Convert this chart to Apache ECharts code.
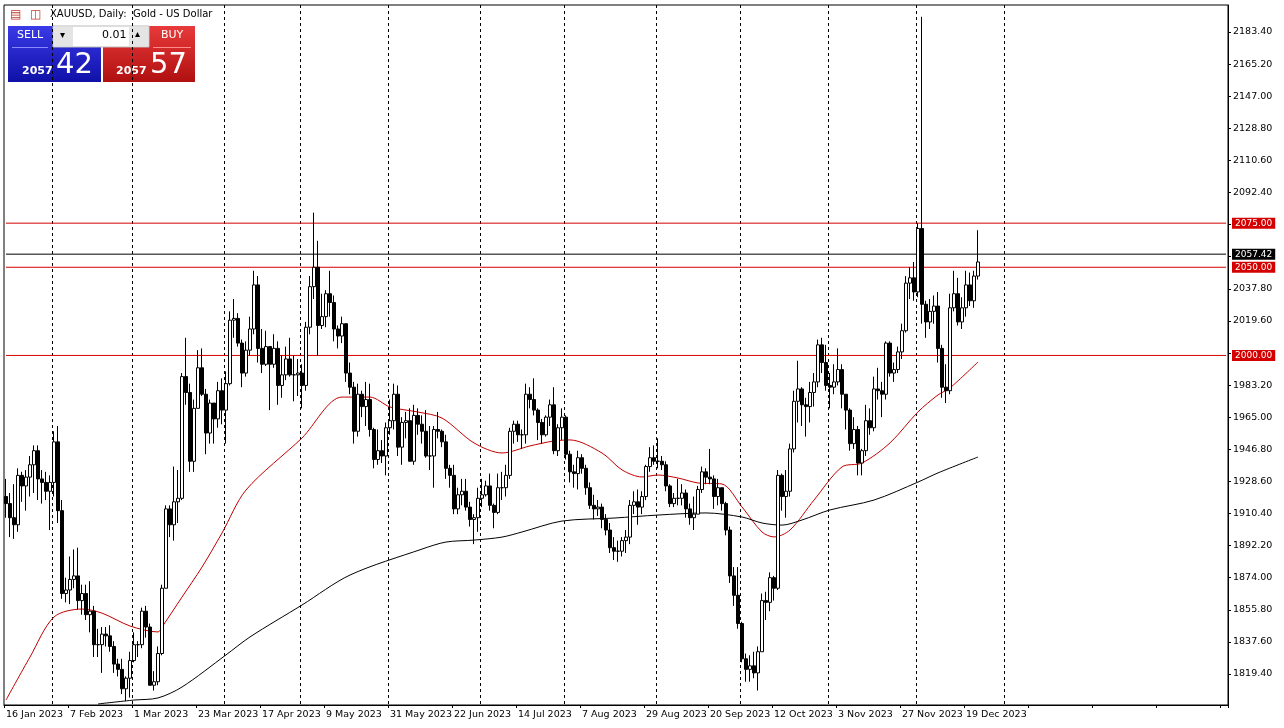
<!DOCTYPE html>
<html><head><meta charset="utf-8">
<script src="https://cdn.jsdelivr.net/npm/echarts@6/dist/echarts.min.js"></script>
<style>html,body{margin:0;padding:0;background:#fff}#main{width:1284px;height:728px}</style>
</head><body><div id="main"></div>
<script>
// daily closes, 16 Jan 2023 .. 22 Dec 2023 (Good Friday skipped)
var closes = [1916,1908,1904,1932,1926,1931,1938,1946,1930,1928,1923,1928,
1951,1912,1865,1867,1873,1875,1861,1865,1853,1855,1836,1836,1842,1841,1835,1825,1822,1811,1817,1827,
1836,1836,1855,1846,1813,1815,1831,1868,1913,1904,1917,1919,1988,1979,1940,1970,1993,1978,1956,1973,1964,1980,1969,
1984,2020,2021,2007,1990,2003,2015,2040,2004,1995,2005,1995,2004,1983,1989,1998,1989,1989,1990,
1983,2016,2039,2050,2017,2022,2035,2030,2015,2011,2018,1990,1982,1957,1978,1971,1975,1958,1941,1946,1943,1959,1963,
1978,1948,1962,1963,1940,1966,1961,1957,1943,1943,1958,1957,1951,1936,1932,1913,1921,1923,1914,1907,1908,1919,
1921,1926,1915,1911,1925,1925,1932,1957,1961,1955,1955,1978,1975,1969,1962,1955,1965,1972,1946,1959,1965,
1944,1934,1933,1942,1936,1925,1915,1913,1914,1907,1901,1891,1889,1889,1895,1897,1915,1917,1914,1920,1937,1942,1940,
1940,1938,1926,1916,1919,1919,1922,1913,1908,1910,1924,1934,1931,1930,1920,1925,1916,1901,1875,1864,1848,
1828,1822,1824,1820,1832,1861,1860,1874,1868,1932,1920,1923,1947,1974,1981,1972,1971,1979,1985,2006,1996,1983,
1982,1985,1992,1978,1969,1950,1958,1939,1946,1963,1959,1981,1980,1978,2007,1990,1992,2002,2014,2041,2044,2036,
2072,2029,2019,2025,2028,2004,1982,1980,2027,2035,2019,2027,2040,2031,2045,2053];
var highs = [1930,1922,1927,1936,1934,1935,1943,1949,1949,1935,1934,1932,
1957,1960,1918,1874,1886,1890,1891,1870,1870,1872,1858,1845,1846,1846,1847,1838,1828,1828,1818,1832,
1843,1838,1857,1858,1848,1821,1835,1870,1915,1915,1937,1935,1990,2010,1984,1975,2003,2004,1981,1975,1970,1985,1987,
1991,2025,2032,2024,2009,2008,2022,2048,2045,2015,2014,2005,2012,2008,2000,2005,2010,2000,1998,
1995,2019,2045,2081,2065,2035,2037,2048,2034,2017,2022,2018,1996,1985,1984,1980,1985,1984,1959,1958,1952,1962,1975,
1984,1983,1965,1968,1970,1972,1970,1966,1969,1960,1960,1968,1958,1955,1938,1938,1925,1930,1930,1917,1910,1925,
1930,1929,1933,1916,1933,1934,1938,1959,1963,1963,1958,1984,1982,1987,1970,1964,1966,1975,1982,1961,1970,
1966,1946,1938,1946,1944,1938,1928,1921,1918,1916,1910,1905,1897,1895,1897,1901,1918,1923,1924,1923,1938,1948,1949,
1953,1943,1940,1927,1922,1930,1927,1924,1916,1920,1926,1937,1936,1947,1932,1930,1925,1917,1903,1880,1880,
1849,1831,1830,1832,1835,1865,1866,1877,1875,1935,1933,1935,1950,1980,1997,1982,1976,1985,1990,2009,2010,2006,
1990,1995,2004,1995,1978,1970,1965,1960,1947,1972,1970,1988,1993,1985,2008,2008,1996,2005,2018,2045,2050,2053,
2075,2192,2031,2032,2034,2036,2006,1995,2035,2048,2044,2033,2048,2047,2048,2071];
var lows = [1908,1897,1896,1900,1917,1912,1920,1922,1918,1916,1918,1901,
1920,1905,1862,1860,1859,1868,1856,1853,1850,1843,1829,1829,1820,1835,1832,1820,1818,1808,1804,1806,
1826,1829,1834,1840,1813,1810,1813,1830,1868,1897,1895,1905,1918,1972,1934,1934,1970,1977,1944,1950,1950,1959,1961,
1950,1983,2010,2005,1982,1988,2000,2012,1996,1990,1994,1969,1993,1972,1976,1986,1988,1974,1977,
1970,1980,2012,2032,2000,2015,2016,2022,2008,2004,2007,1985,1978,1950,1954,1965,1960,1954,1936,1938,1939,1932,1955,
1958,1943,1938,1953,1940,1938,1955,1950,1942,1935,1925,1953,1948,1930,1925,1910,1910,1915,1912,1903,1893,1900,
1914,1920,1912,1902,1910,1918,1920,1930,1950,1951,1947,1950,1970,1966,1952,1950,1954,1960,1944,1943,1952,
1941,1928,1925,1924,1933,1921,1913,1907,1909,1902,1898,1888,1884,1883,1886,1888,1893,1910,1904,1910,1918,1934,1938,
1936,1935,1923,1914,1914,1915,1915,1908,1904,1901,1910,1922,1927,1927,1913,1915,1912,1898,1871,1858,1845,
1826,1815,1815,1817,1810,1832,1850,1855,1861,1867,1912,1908,1920,1945,1962,1960,1954,1962,1971,1982,1990,1980,
1970,1978,1983,1970,1958,1946,1947,1932,1932,1943,1955,1957,1975,1965,1975,1988,1985,1990,1998,2013,2032,2031,
2033,2018,2010,2015,2018,1996,1976,1973,1978,2025,2017,2015,2022,2028,2027,2043];
var firstOpen = 1920;
// moving averages: [bar index, value]
var ma50 = [[0,1804.6],[6,1829.0],[12,1851.7],[19,1856.2],[24,1853.9],[31,1846.6],[38,1843.2],[39,1846.0],[44,1863.0],
[49,1880.0],[54,1899.3],[60,1923.7],[74,1953.2],[84,1976.4],[91,1976.4],[96,1970.8],[103,1967.9],[109,1964.5],
[117,1950.4],[124,1944.7],[131,1948.7],[137,1951.5],[141,1952.1],[149,1944.7],[154,1935.1],[159,1931.1],[163,1932.2],
[168,1930.5],[173,1927.7],[179,1927.1],[184,1914.1],[189,1899.9],[192,1897.1],[196,1901.0],[202,1918.0],[209,1936.8],
[214,1939.0],[221,1950.4],[228,1968.0],[233,1977.6],[236,1981.6],[243,1996.3]];
var ma200 = [[23,1802.4],[32,1804.6],[38,1805.8],[44,1812.0],[55,1830.2],[61,1840.4],[74,1858.5],[86,1875.5],
[104,1890.2],[110,1894.2],[117,1895.3],[124,1897.0],[129,1899.9],[139,1906.1],[152,1907.8],[163,1909.5],[175,1910.7],
[184,1908.4],[189,1905.0],[194,1903.8],[199,1906.7],[206,1912.4],[217,1918.0],[228,1928.2],[233,1933.4],[243,1942.4]];
var levels = [2075, 2050, 2000];
var lastPrice = 2057.42;
var yTicks = [1819.40,1837.60,1855.80,1874.00,1892.20,1910.40,1928.60,1946.80,1965.00,1983.20,2001.40,2019.60,
2037.80,2056.00,2074.20,2092.40,2110.60,2128.80,2147.00,2165.20,2183.40];
var monthStarts = [12,32,55,74,96,119,140,163,184,206,228,250];

var months = ['Jan','Feb','Mar','Apr','May','Jun','Jul','Aug','Sep','Oct','Nov','Dec'];
var dates = [];
var d = new Date(2023, 0, 16);
while (dates.length < 306) {
  var wd = d.getDay();
  var skip = (d.getFullYear() === 2023 && d.getMonth() === 3 && d.getDate() === 7);
  if (wd !== 0 && wd !== 6 && !skip) dates.push(d.getDate() + ' ' + months[d.getMonth()] + ' ' + d.getFullYear());
  d.setDate(d.getDate() + 1);
}
var ohlc = closes.map(function (c, i) {
  var o = i === 0 ? firstOpen : closes[i - 1];
  return [o, c, lows[i], highs[i]];
});

var chart = echarts.init(document.getElementById('main'));
var F = 'DejaVu Sans';
var allTags = levels.concat([lastPrice]);
var last = dates.length - 1;
function levelSeries(v, col) {
  return {type: 'line', data: [[0, v], [last, v]], showSymbol: false, color: col, silent: true, z: 3,
    lineStyle: {color: col, width: 1}, clip: false,
    endLabel: {show: true, distance: 6, formatter: v.toFixed(2), color: '#fff', backgroundColor: col,
      padding: [1, 3], fontSize: 9, fontFamily: F}};
}

var series = [
  {type: 'candlestick', data: ohlc, barWidth: 3, z: 4,
    itemStyle: {color: '#fff', color0: '#000', borderColor: '#000', borderColor0: '#000', borderWidth: 1}},
  {type: 'line', data: ma50, showSymbol: false, smooth: 0.3, color: '#c00000', lineStyle: {color: '#c00000', width: 1}, z: 2},
  {type: 'line', data: ma200, showSymbol: false, smooth: 0.3, color: '#000', lineStyle: {color: '#000', width: 1}, z: 2}
];
levels.forEach(function (v) { series.push(levelSeries(v, '#d40000')); });
series.push(levelSeries(lastPrice, '#000'));

chart.setOption({
  animation: false,
  backgroundColor: '#fff',
  grid: {left: 4, right: 56, top: 5, bottom: 23, show: true, borderColor: '#000', borderWidth: 1},
  xAxis: {
    type: 'category', data: dates, boundaryGap: true,
    axisLine: {lineStyle: {color: '#000'}},
    axisTick: {show: true, interval: function (i) { return i % 16 === 0; }, lineStyle: {color: '#000'}, length: 3},
    axisLabel: {interval: function (i) { return i % 16 === 0 && i < 250; }, align: 'left', margin: 5,
      color: '#000', fontSize: 9.5, fontFamily: F},
    splitLine: {show: true, interval: function (i) { return monthStarts.indexOf(i) >= 0; },
      lineStyle: {color: '#000', type: [3, 3], width: 1}}
  },
  yAxis: {
    type: 'value', position: 'right', min: 1801.8, max: 2198.7, scale: true,
    axisLine: {show: true, lineStyle: {color: '#000'}},
    axisTick: {show: true, customValues: yTicks, length: 3, lineStyle: {color: '#000'}},
    axisLabel: {customValues: yTicks, color: '#000', fontSize: 9.5, fontFamily: F, margin: 5,
      formatter: function (v) {
        for (var k = 0; k < allTags.length; k++) if (Math.abs(v - allTags[k]) < 6) return '';
        return v.toFixed(2);
      }},
    splitLine: {show: false}
  },
  series: series,
  graphic: [
    {type: 'text', left: 10, top: 9, style: {text: '▤', fontSize: 12, fill: '#c0392b'}},
    {type: 'text', left: 30, top: 9, style: {text: '◫', fontSize: 12, fill: '#c0392b'}},
    {type: 'text', left: 50, top: 9, style: {text: 'XAUUSD, Daily:  Gold - US Dollar', fontSize: 10, fontFamily: F, fill: '#000'}},
    {type: 'rect', shape: {x: 8, y: 26, width: 93, height: 56},
      style: {fill: new echarts.graphic.LinearGradient(0, 0, 0, 1, [{offset: 0, color: '#3a3ae8'}, {offset: 1, color: '#1010a8'}])}},
    {type: 'rect', shape: {x: 103, y: 26, width: 92, height: 56},
      style: {fill: new echarts.graphic.LinearGradient(0, 0, 0, 1, [{offset: 0, color: '#e83a3a'}, {offset: 1, color: '#b01010'}])}},
    {type: 'rect', shape: {x: 53, y: 26, width: 96, height: 21}, style: {fill: '#fff', stroke: '#bbb'}},
    {type: 'rect', shape: {x: 54, y: 27, width: 19, height: 19}, style: {fill: '#e4e4e4'}},
    {type: 'rect', shape: {x: 129, y: 27, width: 19, height: 19}, style: {fill: '#e4e4e4'}},
    {type: 'text', left: 60, top: 30, style: {text: '▾', fontSize: 10, fill: '#000'}},
    {type: 'text', left: 135, top: 29, style: {text: '▴', fontSize: 10, fill: '#000'}},
    {type: 'text', left: 102, top: 30, style: {text: '0.01', fontSize: 11, fontFamily: F, fill: '#000'}},
    {type: 'text', left: 17, top: 30, style: {text: 'SELL', fontSize: 11, fontFamily: F, fill: '#fff'}},
    {type: 'text', left: 161, top: 30, style: {text: 'BUY', fontSize: 11, fontFamily: F, fill: '#fff'}},
    {type: 'rect', shape: {x: 12, y: 47, width: 36, height: 1}, style: {fill: '#8888ff'}},
    {type: 'rect', shape: {x: 153, y: 47, width: 38, height: 1}, style: {fill: '#ff8888'}},
    {type: 'text', left: 22, top: 66, style: {text: '2057', fontSize: 11, fontWeight: 'bold', fontFamily: F, fill: '#fff'}},
    {type: 'text', left: 56, top: 51, style: {text: '42', fontSize: 29, fontFamily: F, fill: '#fff'}},
    {type: 'text', left: 116, top: 66, style: {text: '2057', fontSize: 11, fontWeight: 'bold', fontFamily: F, fill: '#fff'}},
    {type: 'text', left: 150, top: 51, style: {text: '57', fontSize: 29, fontFamily: F, fill: '#fff'}}
  ]
});
</script></body></html>
